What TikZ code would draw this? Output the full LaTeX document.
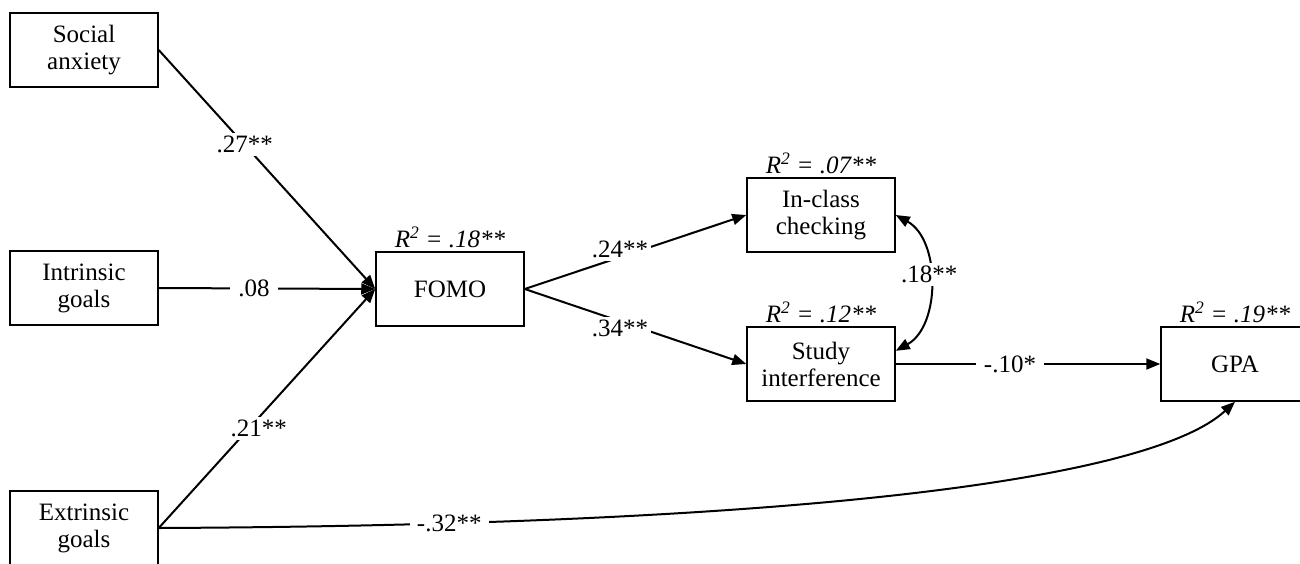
\documentclass[tikz,border=0pt]{standalone}
\usepackage{fontspec}
\setmainfont{Liberation Serif}
\usetikzlibrary{arrows.meta}

\begin{document}
\begin{tikzpicture}[x=1pt, y=-1pt,
  every node/.style={font=\fontsize{25}{27}\selectfont},
  var/.style={draw, line width=1.5pt, minimum width=148pt, minimum height=74pt,
              inner sep=0pt, align=center},
  rsq/.style={above, inner sep=3.5pt, font=\fontsize{25}{27}\selectfont\itshape},
  coef/.style={fill=white, inner sep=3pt},
  tip/.style={Triangle[length=14pt,width=11pt]},
  path/.style={line width=2pt, -{Triangle[length=14pt,width=11pt]}},
  cov/.style={line width=2pt, {Triangle[length=14pt,width=11pt]}-{Triangle[length=14pt,width=11pt]}}
]
\useasboundingbox (0,0) rectangle (1300,563);
\clip (0,0) rectangle (1300,563);
\fill[white] (0,0) rectangle (1300,563);

% predictors
\node[var] (sa) at (84,50)  {Social\\anxiety};
\node[var] (ig) at (84,288) {Intrinsic\\goals};
\node[var] (eg) at (84,528) {Extrinsic\\goals};

% mediators and outcomes
\node[var] (fomo) at (450,289) {FOMO};
\node[var] (ic)   at (821,215) {In-class\\checking};
\node[var] (si)   at (821,364) {Study\\interference};
\node[var] (gpa)  at (1235,364) {GPA};

% explained variance
\node[rsq] (rfomo) at (fomo.north) {R\textsuperscript{2} = .18**};
\node[rsq] (ric)   at (ic.north)   {R\textsuperscript{2} = .07**};
\node[rsq] (rsi)   at (si.north)   {R\textsuperscript{2} = .12**};
\node[rsq] (rgpa)  at (gpa.north)  {R\textsuperscript{2} = .19**};

% paths into FOMO
\draw[path] (sa.east) -- node[coef, pos=0.397] (c1) {.27**} (fomo.west);
\draw[path] (ig.east) -- node[coef, pos=0.44, inner xsep=8pt] (c2) {.08} (fomo.west);
\draw[path] (eg.east) -- node[coef, pos=0.416, xshift=10pt] (c3) {.21**} (fomo.west);

% paths out of FOMO
\draw[path] (fomo.east) -- node[coef, pos=0.43, yshift=8pt] (c4) {.24**} (ic.west);
\draw[path] (fomo.east) -- node[coef, pos=0.43, yshift=-7pt] (c5) {.34**} (si.west);

% residual covariance
\draw[cov] (ic.east) .. controls +(45,25) and +(45,-25) .. node[coef, pos=0.45] (c6) {.18**} (si.10);

% paths into GPA
\draw[path] (si.east) -- node[coef, pos=0.432, inner xsep=8pt] (c7) {-.10*} (gpa.west);
\draw[path] (eg.east) .. controls (800,525) and (1150,480) .. node[coef, pos=0.163, inner xsep=7pt] (c8) {-.32**} (gpa.south);
\end{tikzpicture}
\end{document}
